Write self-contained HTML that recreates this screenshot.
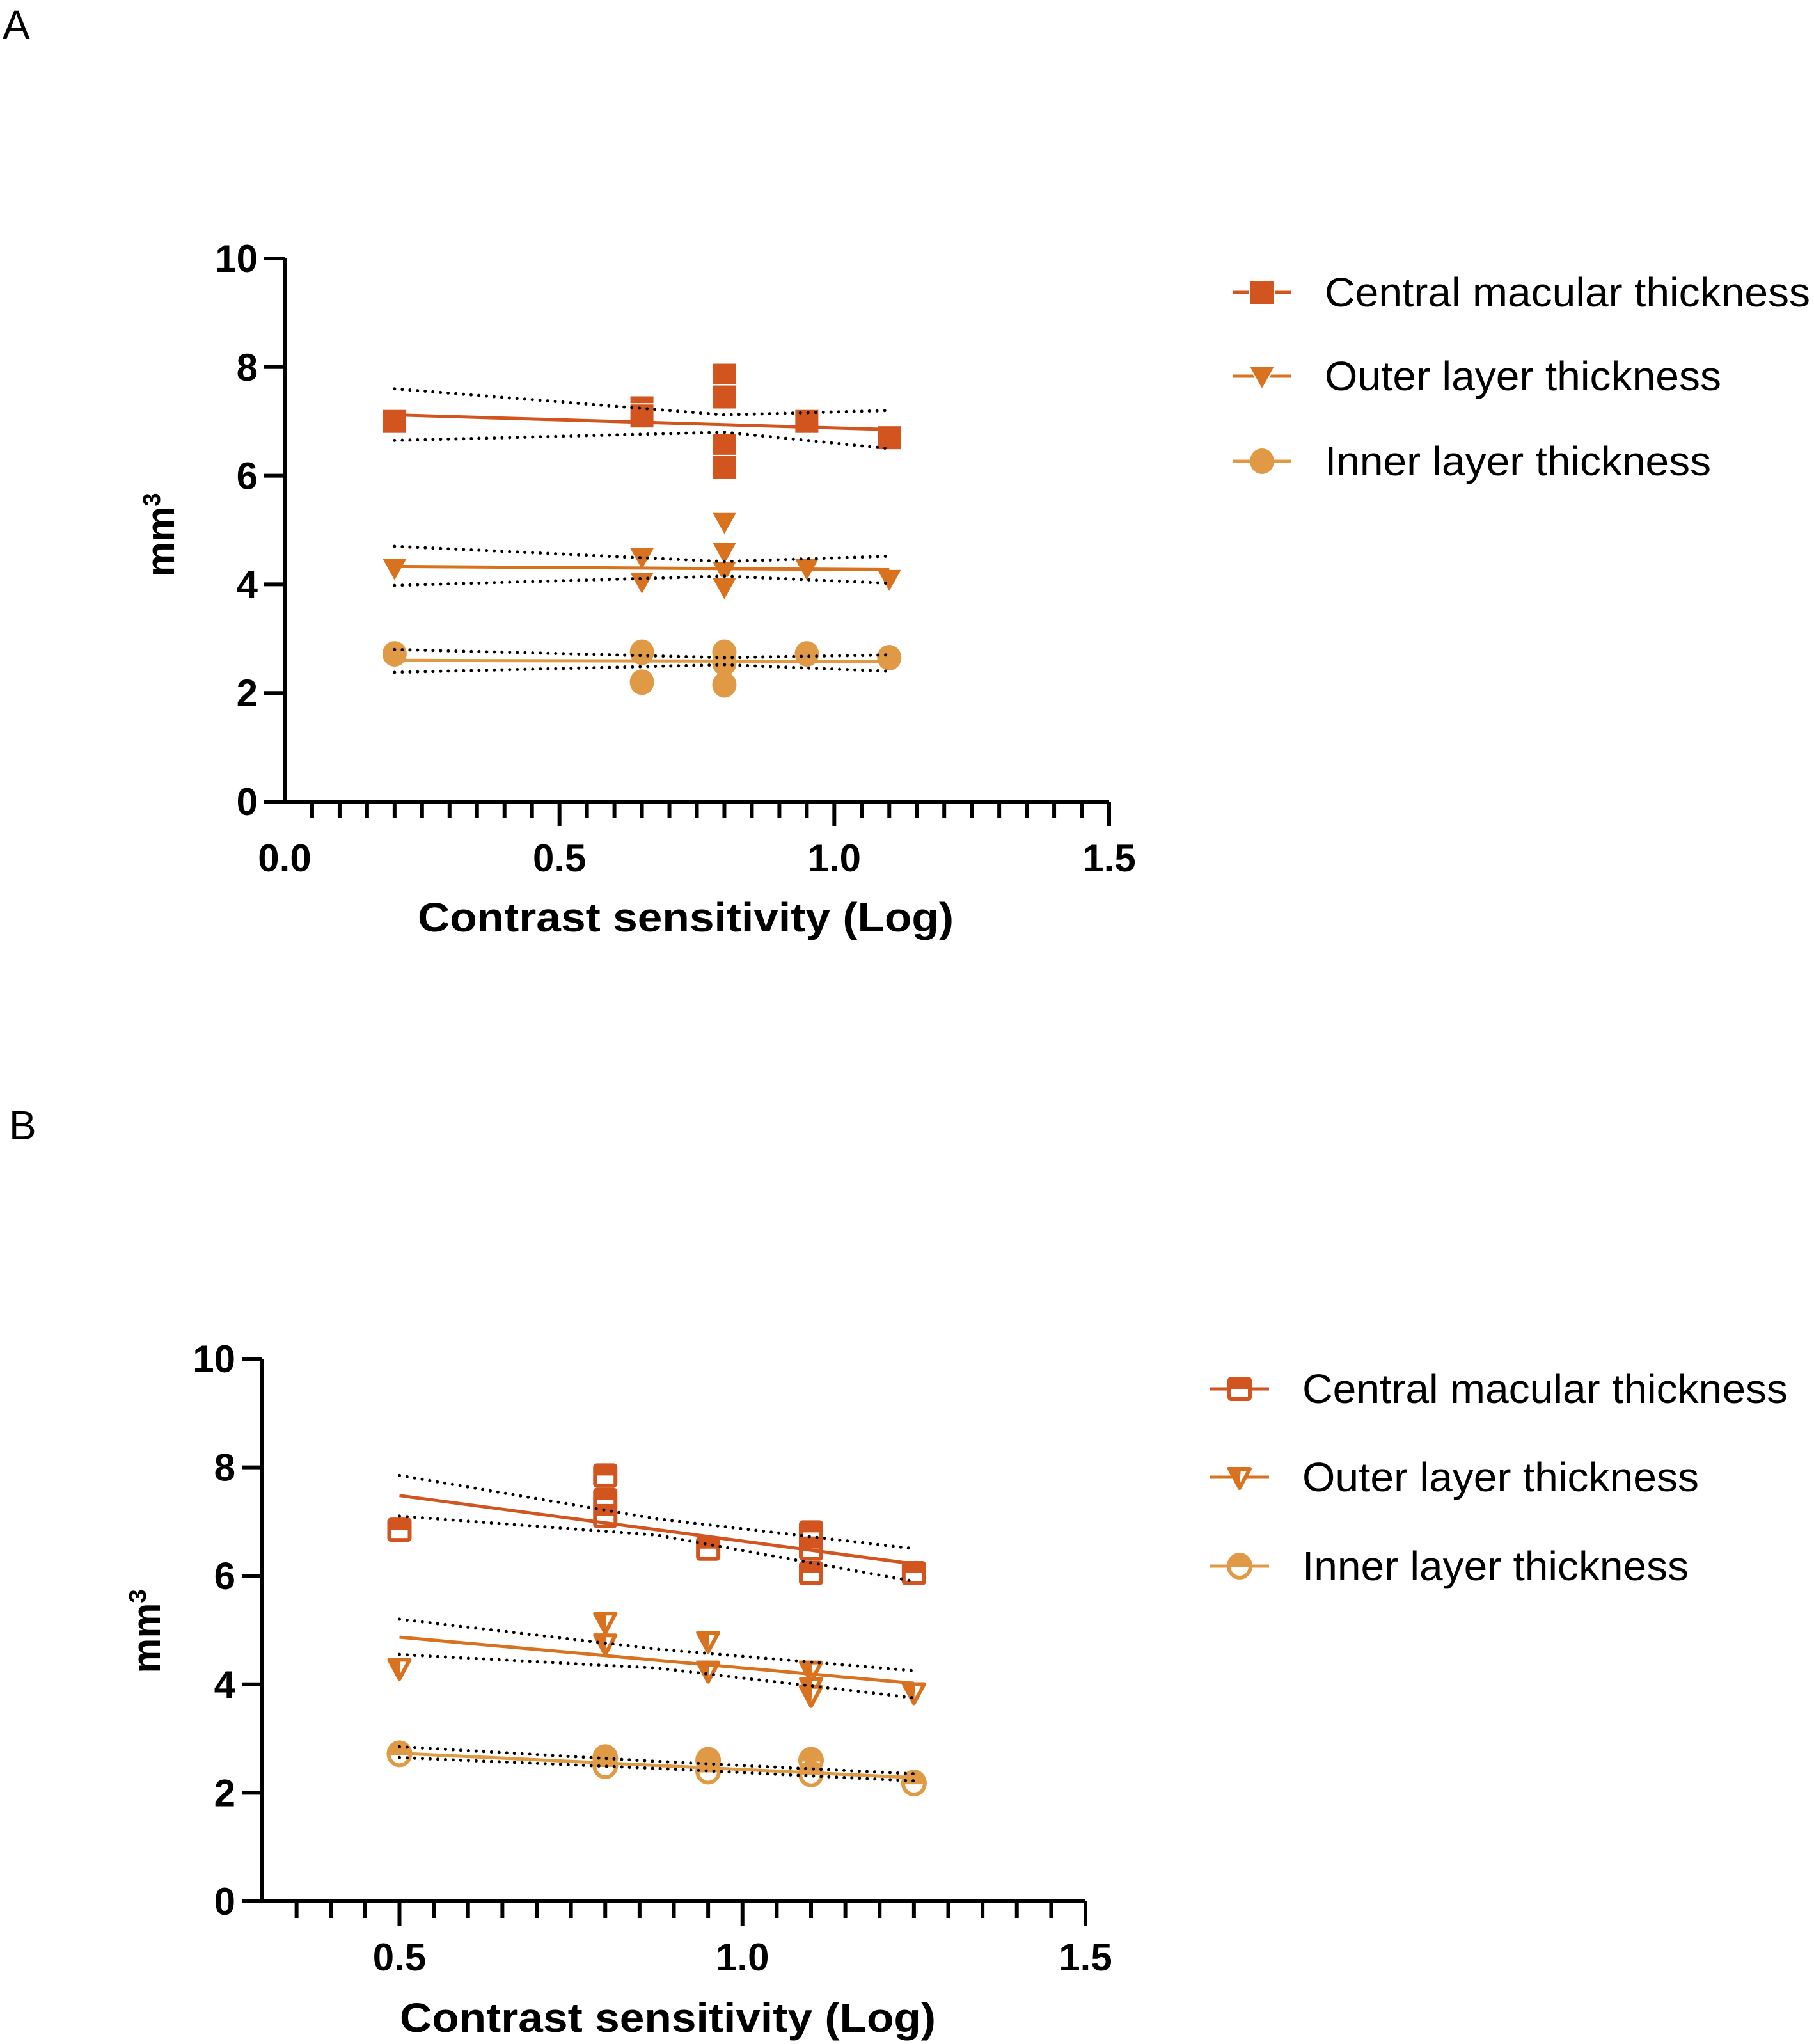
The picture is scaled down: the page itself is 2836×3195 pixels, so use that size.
<!DOCTYPE html>
<html><head><meta charset="utf-8"><style>
html,body{margin:0;padding:0;background:#fff}
svg{display:block}
text{font-family:"Liberation Sans",Arial,sans-serif}
</style></head><body>
<svg id="fig" width="2836" height="3195" viewBox="0 0 2836 3195" xmlns="http://www.w3.org/2000/svg">
<text x="4" y="61" font-size="64">A</text>
<text x="14" y="1781" font-size="64">B</text>
</svg>
<script>
// ---------- Panel A data ----------
const aCmtX=[0.2,0.65,0.65,0.8,0.8,0.8,0.8,0.95,1.1];
const aCmtY=[7.0,7.25,7.1,7.85,7.45,6.55,6.15,7.0,6.7];
const aOltX=[0.2,0.65,0.65,0.8,0.8,0.8,0.8,0.95,1.1];
const aOltY=[4.3,4.5,4.05,5.15,4.6,4.25,3.95,4.3,4.1];
const aIltX=[0.2,0.65,0.65,0.8,0.8,0.8,0.95,1.1];
const aIltY=[2.72,2.75,2.2,2.75,2.55,2.15,2.72,2.65];
const aFitX=[0.2,1.1];
const aCmtFit=[7.12,6.85];
const aOltFit=[4.33,4.27];
const aIltFit=[2.6,2.58];
const aCiX=[0.2,0.8,1.1];
const aCmtCiHi=[7.6,7.12,7.2];
const aCmtCiLo=[6.65,6.8,6.5];
const aOltCiHi=[4.7,4.42,4.52];
const aOltCiLo=[3.98,4.15,4.02];
const aIltCiHi=[2.8,2.65,2.7];
const aIltCiLo=[2.38,2.52,2.4];
// ---------- Panel B data ----------
const bCmtX=[0.5,0.8,0.8,0.8,0.95,1.1,1.1,1.1,1.25];
const bCmtY=[6.85,7.85,7.4,7.1,6.5,6.8,6.5,6.05,6.05];
const bOltX=[0.5,0.8,0.8,0.95,0.95,1.1,1.1,1.1,1.25];
const bOltY=[4.3,5.15,4.75,4.8,4.25,4.25,3.95,3.8,3.85];
const bIltX=[0.5,0.8,0.8,0.95,0.95,1.1,1.1,1.25];
const bIltY=[2.72,2.65,2.5,2.6,2.4,2.6,2.35,2.18];
const bFitX=[0.5,1.25];
const bCmtFit=[7.48,6.22];
const bOltFit=[4.87,4.02];
const bIltFit=[2.73,2.28];
const bCiX=[0.5,0.875,1.25];
const bCmtCiHi=[7.85,7.05,6.5];
const bCmtCiLo=[7.1,6.75,5.9];
const bOltCiHi=[5.2,4.65,4.25];
const bOltCiLo=[4.55,4.3,3.75];
const bIltCiHi=[2.85,2.58,2.35];
const bIltCiLo=[2.65,2.45,2.22];
const yTicks=[0,2,4,6,8,10];
const aXTicks=[0.0,0.5,1.0,1.5];
const bXTicks=[0.5,1.0,1.5];
const seriesNames=["Central macular thickness","Outer layer thickness","Inner layer thickness"];

const NS="http://www.w3.org/2000/svg";
const svg=document.getElementById('fig');
const C1="#D2541F",C2="#D8721F",C3="#E09A45";
function mk(tag,attrs,parent){const e=document.createElementNS(NS,tag);for(const k in attrs)e.setAttribute(k,attrs[k]);(parent||svg).appendChild(e);return e;}

function panel(p){
  const g=mk('g',{});
  
  
  const sx=v=>p.x0+(v-p.xmin)/(p.xmax-p.xmin)*(p.x1-p.x0);
  const sy=v=>p.y0-(v/10)*(p.y0-p.y10);
  const ax=mk('path',{d:`M${p.x0} ${p.y10}V${p.y0+3}M${p.x0-3} ${p.y0}H${p.x1}`,stroke:'#000','stroke-width':6,fill:'none'},g);
  
  
  yTicks.forEach(v=>{
    mk('line',{x1:p.x0-32,x2:p.x0,y1:sy(v),y2:sy(v),stroke:'#000','stroke-width':6},g);
    const t=mk('text',{x:p.x0-42,y:sy(v)+21,'font-size':60,'font-weight':'bold','text-anchor':'end'},g);
    t.textContent=String(v);
    
    
  });
  for(let k=Math.round(p.xmin/0.05)+1;k*0.05<=p.xmax+1e-9;k++){
    const v=k*0.05;const major=Math.abs(v*2-Math.round(v*2))<1e-6;
    mk('line',{x1:sx(v),x2:sx(v),y1:p.y0,y2:p.y0+(major?38:26),stroke:'#000','stroke-width':6},g);
  }
  p.xTicks.forEach(v=>{
    const t=mk('text',{x:sx(v),y:p.labY,'font-size':60,'font-weight':'bold','text-anchor':'middle'},g);
    t.textContent=v.toFixed(1);
    
    
  });
  const xt=mk('text',{x:p.titleX,y:p.titleY,'font-size':64,'font-weight':'bold','text-anchor':'middle',textLength:838,lengthAdjust:'spacingAndGlyphs'},g);
  xt.textContent='Contrast sensitivity (Log)';
  
  
  const yt=mk('text',{transform:`translate(${p.ytX},${p.ytY}) rotate(-90)`,'font-size':62,'font-weight':'bold','text-anchor':'middle'},g);
  yt.innerHTML='mm<tspan dy="-22" font-size="38">3</tspan>';
  
  

  const cols=[C1,C2,C3],shapes=['sq','tri','ci'];
  function marker(parent,shape,cx,cy,col,open){
    if(shape==='sq'){
      if(!open){mk('rect',{x:cx-19,y:cy-19,width:38,height:38,fill:col,stroke:'#fff','stroke-width':2},parent);}
      else{mk('rect',{x:cx-16,y:cy-16,width:32,height:32,fill:'#fff',stroke:col,'stroke-width':6,rx:3},parent);
        mk('rect',{x:cx-18,y:cy-18,width:36,height:18,fill:col,rx:3},parent);}
    }else if(shape==='tri'){
      if(!open){mk('polygon',{points:`${cx-20},${cy-15} ${cx+20},${cy-15} ${cx},${cy+21}`,fill:col,stroke:'#fff','stroke-width':2},parent);}
      else{mk('polygon',{points:`${cx-16},${cy-13} ${cx+16},${cy-13} ${cx},${cy+17}`,fill:'#fff',stroke:col,'stroke-width':6,'stroke-linejoin':'round'},parent);
        mk('polygon',{points:`${cx-19},${cy-16} ${cx+2},${cy-16} ${cx},${cy+20}`,fill:col},parent);}
    }else{
      if(!open){mk('ellipse',{cx:cx,cy:cy,rx:19,ry:20,fill:col},parent);}
      else{mk('ellipse',{cx:cx,cy:cy,rx:17,ry:18,fill:'#fff',stroke:col,'stroke-width':6},parent);
        mk('path',{d:`M${cx-20} ${cy+2}A20 20 0 0 1 ${cx+20} ${cy+2}Z`,fill:col},parent);}
    }
  }
  p.series.forEach((s,i)=>{
    const sg=mk('g',{},g);
    
    
    s.xs.forEach((x,j)=>{marker(sg,shapes[i],sx(x),sy(s.ys[j]),cols[i],p.open);});
    const fl=mk('line',{x1:sx(p.fitX[0]),y1:sy(s.fit[0]),x2:sx(p.fitX[1]),y2:sy(s.fit[1]),stroke:cols[i],'stroke-width':5},sg);
    
    
    [s.hi,s.lo].forEach(arr=>{
      const pts=p.ciX.map((x,k)=>sx(x)+','+sy(arr[k])).join(' ');
      const c=mk('polyline',{points:pts,fill:'none',stroke:'#000','stroke-width':5,'stroke-dasharray':'0 12','stroke-linecap':'round'},sg);
      
      
    });
  });
  p.legY.forEach((ly,i)=>{
    const lg=mk('g',{},g);
    
    
    mk('line',{x1:p.legX-46,x2:p.legX+46,y1:ly,y2:ly,stroke:cols[i],'stroke-width':5},lg);
    marker(lg,shapes[i],p.legX,ly,cols[i],p.open);
    const t=mk('text',{x:p.legTX,y:ly+22,'font-size':64,textLength:p.legW[i],lengthAdjust:'spacingAndGlyphs'},lg);
    t.textContent=seriesNames[i];
  });
}
panel({id:'panel-a',x0:445,x1:1734,xmin:0,xmax:1.5,y0:1253,y10:404,xTicks:aXTicks,labY:1362,titleX:1072,titleY:1456,ytX:272,ytY:836,open:false,
  fitX:aFitX,ciX:aCiX,legX:1973,legTX:2071,legY:[457,588,721],legW:[759,620,604],
  series:[{xs:aCmtX,ys:aCmtY,fit:aCmtFit,hi:aCmtCiHi,lo:aCmtCiLo},{xs:aOltX,ys:aOltY,fit:aOltFit,hi:aOltCiHi,lo:aOltCiLo},{xs:aIltX,ys:aIltY,fit:aIltFit,hi:aIltCiHi,lo:aIltCiLo}]});
panel({id:'panel-b',x0:410,x1:1697,xmin:0.3,xmax:1.5,y0:2972,y10:2124,xTicks:bXTicks,labY:3080,titleX:1044,titleY:3176,ytX:250,ytY:2550,open:true,
  fitX:bFitX,ciX:bCiX,legX:1938,legTX:2036,legY:[2171,2309,2448],legW:[759,620,604],
  series:[{xs:bCmtX,ys:bCmtY,fit:bCmtFit,hi:bCmtCiHi,lo:bCmtCiLo},{xs:bOltX,ys:bOltY,fit:bOltFit,hi:bOltCiHi,lo:bOltCiLo},{xs:bIltX,ys:bIltY,fit:bIltFit,hi:bIltCiHi,lo:bIltCiLo}]});
</script>
</body></html>
